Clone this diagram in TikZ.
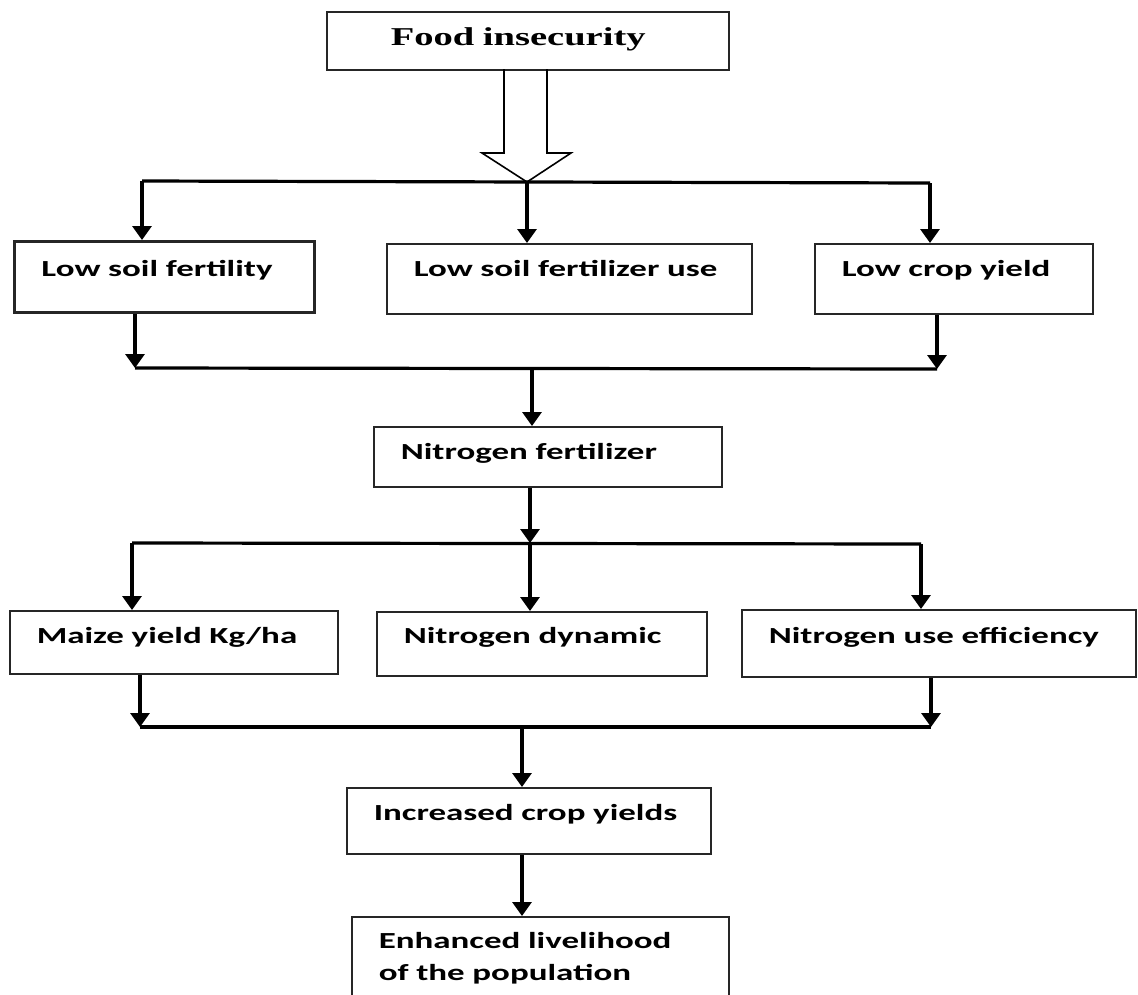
\documentclass[tikz,border=0pt]{standalone}
\usepackage{fontspec}
\usepackage{tikz}
\usetikzlibrary{positioning}
\usetikzlibrary{arrows.meta}
\newfontfamily\boxfont[FakeStretch=1.52]{Carlito}
\newfontfamily\headfont[FakeStretch=1.5]{Liberation Serif}
\tikzset{box/.style={draw=black!85, line width=1.6pt, anchor=north west, align=left, inner xsep=27pt, inner ysep=0pt, font=\boxfont\bfseries\fontsize{23}{32}\selectfont}}
\tikzset{bus/.style={line width=3.2pt}}
\tikzset{arr/.style={line width=3.2pt, -{Triangle[width=19pt,length=14pt]}}}

\begin{document}
\begin{tikzpicture}[x=1pt,y=-1pt]
\clip (0,0) rectangle (1138,994);
\fill[white] (0,0) rectangle (1138,994);
\node[box, inner xsep=64pt, text width=274pt, text height=34pt, text depth=24pt, font=\headfont\bfseries\fontsize{25.7}{30}\selectfont] (food) at (326,11) {Food insecurity};
\node[box, text width=246pt, text height=34.5pt, text depth=36.5pt, line width=3pt] (lsf) at (13,240) {Low soil fertility};
\node[box, text width=311pt, text height=32.5pt, text depth=37.5pt] (lsfu) at (386,243) {Low soil fertilizer use};
\node[box, text width=224pt, text height=32.5pt, text depth=37.5pt] (lcy) at (814,243) {Low crop yield};
\node[box, text width=294pt, text height=32.5pt, text depth=27.5pt] (nf) at (373,426) {Nitrogen fertilizer};
\node[box, text width=274pt, text height=32.5pt, text depth=30.5pt] (maize) at (9,610) {Maize yield Kg/ha};
\node[box, text width=276pt, text height=31.5pt, text depth=32.5pt] (nd) at (376,611) {Nitrogen dynamic};
\node[box, text width=340pt, text height=33.5pt, text depth=33.5pt] (nue) at (741,609) {Nitrogen use efficiency};
\node[box, text width=310pt, text height=32.5pt, text depth=33.5pt] (icy) at (346,787) {Increased crop yields};
\node[box, text width=323pt, text height=31.5pt, text depth=62.5pt] (elp) at (351,916) {Enhanced livelihood\\of the population};
% hollow arrow
\coordinate (tip) at (527,182);
\draw[line width=1.6pt, line join=miter] (504,69) -- (504,153) -- (482,153) -- (tip) -- (571,153) -- (547,153) -- (547,69);
% first split
\coordinate (t1) at (142,181);
\coordinate (t3) at (930,183);
\draw[bus] (t1) -- (t3);
\draw[arr] (t1) -- (t1 |- lsf.north);
\draw[arr] (tip) -- (tip |- lsfu.north);
\draw[arr] (t3) -- (t3 |- lcy.north);
% join to nitrogen fertilizer
\coordinate (m1) at (135,368);
\coordinate (m2) at (532,368);
\coordinate (m3) at (937,369);
\draw[arr] (m1 |- lsf.south) -- (m1);
\draw[arr] (m3 |- lcy.south) -- (m3);
\draw[bus] (m1) -- (m3);
\draw[arr] (m2) -- (m2 |- nf.north);
% second split
\coordinate (n1) at (132,543);
\coordinate (n2) at (530,543);
\coordinate (n3) at (921,544);
\draw[arr] (nf.south -| n2) -- (n2);
\draw[bus] (n1) -- (n3);
\draw[arr] (n1) -- (n1 |- maize.north);
\draw[arr] (n2) -- (n2 |- nd.north);
\draw[arr] (n3) -- (n3 |- nue.north);
% join to increased yields
\coordinate (k1) at (140,727);
\coordinate (k2) at (522,727);
\coordinate (k3) at (931,727);
\draw[arr] (k1 |- maize.south) -- (k1);
\draw[arr] (k3 |- nue.south) -- (k3);
\draw[bus] (k1) -- (k3);
\draw[arr] (k2) -- (k2 |- icy.north);
\draw[arr] (icy.south -| k2) -- (k2 |- elp.north);
\end{tikzpicture}
\end{document}
